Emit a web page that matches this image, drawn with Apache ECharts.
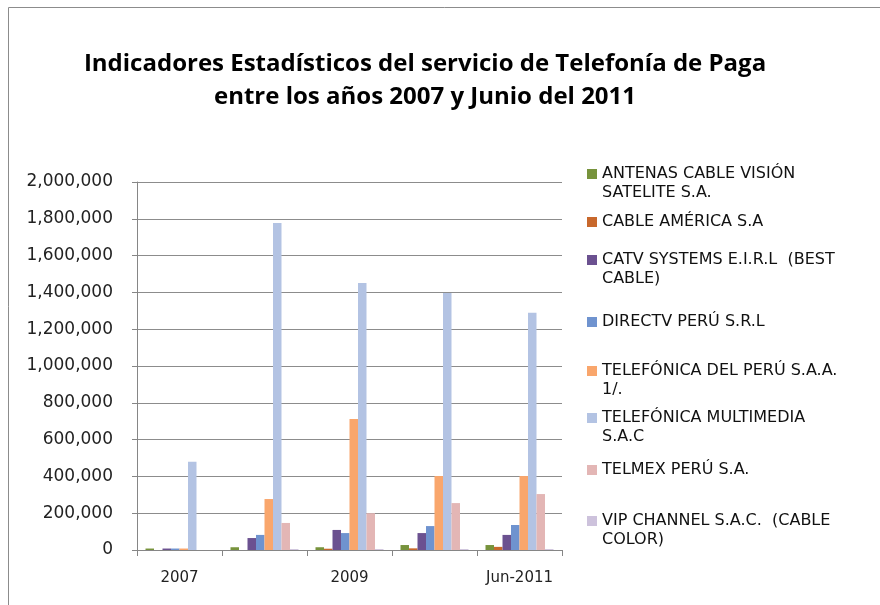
<!DOCTYPE html>
<html>
<head>
<meta charset="utf-8">
<script src="https://cdn.jsdelivr.net/npm/echarts@6/dist/echarts.min.js"></script>
<style>
  html, body { margin: 0; padding: 0; background: #fff; }
  #chart { width: 880px; height: 605px; }
</style>
</head>
<body>
<div id="chart"></div>
<script>
  // categorias del eje x
  var years = ['2007', '2008', '2009', '2010', 'Jun-2011']

  // empresas (leyenda)
  var empresas = [
    'ANTENAS CABLE VISIÓN\nSATELITE S.A.',
    'CABLE AMÉRICA S.A',
    'CATV SYSTEMS E.I.R.L  (BEST\nCABLE)',
    'DIRECTV PERÚ S.R.L',
    'TELEFÓNICA DEL PERÚ S.A.A.\n1/.',
    'TELEFÓNICA MULTIMEDIA\nS.A.C',
    'TELMEX PERÚ S.A.',
    'VIP CHANNEL S.A.C.  (CABLE\nCOLOR)',
  ]

  // valores por empresa
  var antenas = [8000, 15000, 15000, 27000, 27000]
  var cableAmerica = [0, 0, 7000, 9000, 17000]
  var catv = [8000, 65000, 109000, 92000, 82000]
  var directv = [8000, 82000, 92000, 130000, 136000]
  var telefonicaPeru = [8000, 277000, 712000, 402000, 402000]
  var telefonicaMulti = [480000, 1777000, 1451000, 1397000, 1290000]
  var telmex = [0, 147000, 200000, 255000, 304000]
  var vipChannel = [0, 5000, 5000, 5000, 5000]

  var yTicks = [0, 2000000, 200000] // min, max, intervalo

  var valores = [antenas, cableAmerica, catv, directv, telefonicaPeru, telefonicaMulti, telmex, vipChannel]
  var colores = ['#77933c', '#c8682c', '#6b5190', '#6f93cf', '#f9a66c', '#b3c3e3', '#e3b6b5', '#cdc2dc']

  // centro vertical de la primera linea de cada item de la leyenda
  var legendY = [174, 222, 260, 322, 371, 418, 470, 521]

  var chart = echarts.init(document.getElementById('chart'))

  var legends = empresas.map(function (name, i) {
    var dosLineas = name.indexOf('\n') >= 0
    return {
      data: [name],
      orient: 'vertical',
      left: 587,
      top: dosLineas ? legendY[i] - 28.5 : legendY[i] - 9.5,
      padding: 0,
      itemWidth: 10,
      itemHeight: 10,
      icon: 'rect',
      selectedMode: false,
      // linea vacia arriba para que el cuadro quede a la altura de la primera linea
      formatter: function (n) {
        return n.indexOf('\n') >= 0 ? '\n' + n : n
      },
      textStyle: {
        fontFamily: 'DejaVu Sans',
        fontSize: 16,
        color: '#111',
        lineHeight: 19,
      },
    }
  })

  var option = {
    animation: false,
    color: colores,
    title: {
      text: 'Indicadores Estadísticos del servicio de Telefonía de Paga\nentre los años 2007 y Junio del 2011',
      left: 425,
      top: 48,
      textAlign: 'center',
      padding: 0,
      textStyle: {
        fontFamily: 'Open Sans',
        fontWeight: 'bold',
        fontSize: 24,
        lineHeight: 33,
        color: '#000',
      },
    },
    legend: legends,
    grid: {
      left: 137,
      right: 318,
      top: 182,
      bottom: 55,
    },
    xAxis: {
      type: 'category',
      data: years,
      axisLine: { lineStyle: { color: '#868686', width: 1 } },
      axisTick: { show: true, interval: 0, length: 6, lineStyle: { color: '#868686' } },
      axisLabel: {
        interval: 1,
        margin: 21,
        fontFamily: 'DejaVu Sans',
        fontSize: 15,
        color: '#222',
      },
    },
    yAxis: {
      type: 'value',
      min: yTicks[0],
      max: yTicks[1],
      interval: yTicks[2],
      axisLine: { show: true, lineStyle: { color: '#868686', width: 1 } },
      axisTick: { show: true, length: 5, lineStyle: { color: '#868686' } },
      splitLine: { lineStyle: { color: '#8c8c8c', width: 1 } },
      axisLabel: {
        margin: 24,
        fontFamily: 'DejaVu Sans',
        fontSize: 17,
        color: '#222',
        formatter: function (v) {
          return String(v).replace(/\B(?=(\d{3})+(?!\d))/g, ',')
        },
      },
    },
    graphic: [
      {
        type: 'rect',
        shape: { x: 8.5, y: 7.5, width: 1000, height: 1000 },
        style: { fill: 'none', stroke: '#8c8c8c', lineWidth: 1 },
        silent: true,
      },
    ],
    series: empresas.map(function (name, i) {
      return {
        name: name,
        type: 'bar',
        data: valores[i],
        barGap: '0%',
        barCategoryGap: '20%',
      }
    }),
  }

  chart.setOption(option)
</script>
</body>
</html>
